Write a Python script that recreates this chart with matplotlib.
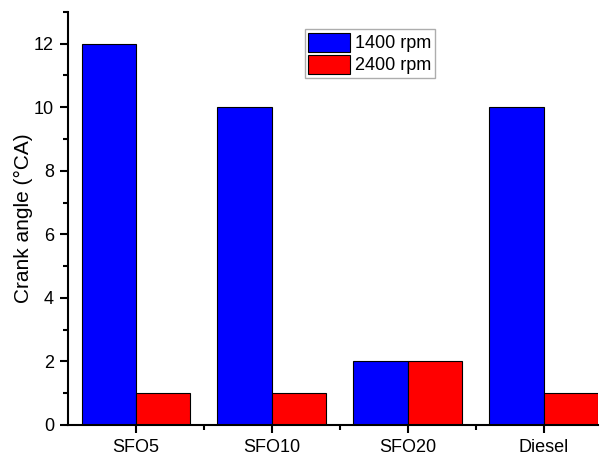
import numpy as np
import matplotlib.pyplot as plt
from matplotlib.ticker import MultipleLocator, FixedLocator

plt.rcParams['font.family'] = ['Liberation Sans', 'DejaVu Sans']

# Data
fuels = ['SFO5', 'SFO10', 'SFO20', 'Diesel']
rpm1400 = [12, 10, 2, 10]
rpm2400 = [1, 1, 2, 1]

x = np.arange(1, len(fuels) + 1)
w = 0.4

fig = plt.figure(figsize=(6.01, 4.55), dpi=100)
ax = fig.add_axes([0.113, 0.066, 0.882, 0.908])

ax.bar(x - w/2, rpm1400, width=w, color='#0000FF', edgecolor='black', linewidth=0.8, label='1400 rpm')
ax.bar(x + w/2, rpm2400, width=w, color='#FF0000', edgecolor='black', linewidth=0.8, label='2400 rpm')

ax.set_xlim(0.5, 4.4)
ax.set_ylim(0, 13)
ax.set_xticks(x)
ax.set_xticklabels(fuels, fontsize=13)
ax.xaxis.set_minor_locator(FixedLocator([1.5, 2.5, 3.5]))
ax.yaxis.set_major_locator(MultipleLocator(2))
ax.yaxis.set_minor_locator(MultipleLocator(1))
ax.tick_params(axis='y', labelsize=13)
ax.tick_params(which='major', direction='out', length=6, width=1.5, pad=4)
ax.tick_params(which='minor', direction='out', length=3.5, width=1.5)

for s in ['top', 'right']:
    ax.spines[s].set_visible(False)
for s in ['left', 'bottom']:
    ax.spines[s].set_linewidth(1.5)

ax.set_ylabel('Crank angle (°CA)', fontsize=15, labelpad=1)

ax.legend(loc='upper left', bbox_to_anchor=(0.447, 0.958), fontsize=13, fancybox=False,
          edgecolor='#999999', handlelength=2.3, handleheight=1.25, borderpad=0.2,
          labelspacing=0.12, handletextpad=0.3, borderaxespad=0)

plt.savefig('out.png', dpi=100)
